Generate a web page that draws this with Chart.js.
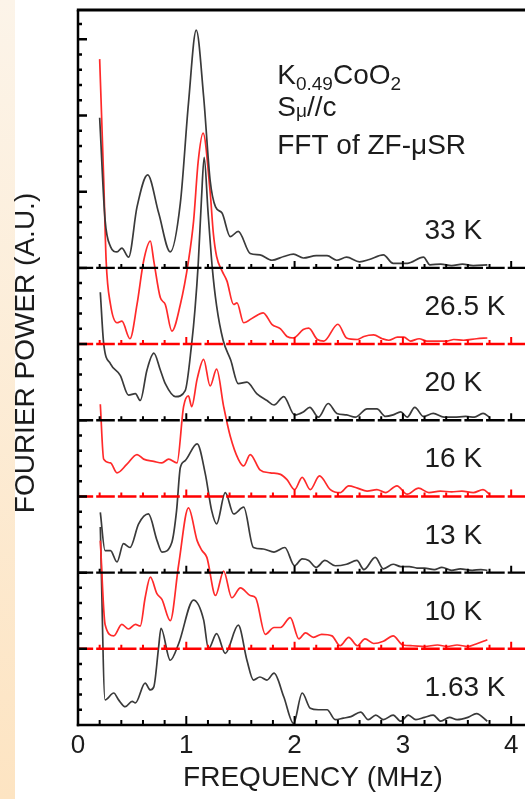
<!DOCTYPE html>
<html><head><meta charset="utf-8">
<script src="https://cdn.jsdelivr.net/npm/chart.js@4.4.1/dist/chart.umd.min.js"></script>
<style>
html,body{margin:0;padding:0;background:#fff;width:525px;height:799px;overflow:hidden;}
#strip{position:absolute;left:0;top:0;width:15px;height:799px;background:linear-gradient(#fcf4e9,#fde4c2);}
#c{position:absolute;left:0;top:0;}
</style></head><body>
<div id="strip"></div>
<canvas id="c" width="550" height="799"></canvas>
<script>
// ---- data (frequency in MHz, Fourier power in arbitrary units above each baseline) ----
const temps   = ['33 K','26.5 K','20 K','16 K','13 K','10 K','1.63 K'];
const offsets = [6, 5, 4, 3, 2, 1, 0];
const xTickLabels = [0, 1, 2, 3, 4];

const f33  = [0.20,0.25,0.30,0.36,0.405,0.467,0.545,0.643,0.745,0.852,0.945,1.02,1.092,1.16,1.22,1.27,1.33,1.406,1.48,1.59,1.68,1.79,1.90,1.99,2.08,2.2,2.3,2.39,2.48,2.6,2.69,2.82,2.91,3.04,3.19,3.25,3.35,3.45,3.55,3.65,3.78];
const p33  = [1.97,0.63,0.28,0.21,0.26,0.14,0.80,1.22,0.72,0.21,0.85,2.16,3.12,2.25,1.15,0.80,0.72,0.41,0.48,0.19,0.17,0.10,0.15,0.18,0.13,0.16,0.16,0.10,0.14,0.08,0.11,0.17,0.06,0.06,0.14,0.04,0.05,0.03,0.05,0.03,0.04];

const f265 = [0.20,0.237,0.26,0.30,0.36,0.405,0.48,0.545,0.606,0.668,0.70,0.76,0.806,0.867,0.945,1.02,1.067,1.11,1.155,1.22,1.25,1.28,1.33,1.375,1.437,1.468,1.53,1.62,1.71,1.79,1.87,1.93,1.99,2.08,2.13,2.21,2.27,2.40,2.48,2.58,2.64,2.73,2.81,2.87,2.95,3.01,3.07,3.15,3.22,3.31,3.41,3.47,3.56,3.68,3.78];
const p265 = [3.74,2.18,1.09,0.52,0.28,0.30,0.07,0.52,1.09,1.35,1.09,0.61,0.52,0.17,0.52,1.09,1.61,2.40,2.77,2.00,1.45,1.15,0.96,0.83,0.52,0.54,0.28,0.35,0.41,0.26,0.20,0.10,0.08,0.19,0.21,0.06,0.04,0.26,0.08,0.06,0.10,0.12,0.07,0.05,0.09,0.09,0.04,0.07,0.04,0.04,0.04,0.06,0.05,0.07,0.08];

const f20  = [0.206,0.237,0.30,0.39,0.467,0.53,0.575,0.637,0.70,0.76,0.806,0.90,0.99,1.05,1.08,1.11,1.14,1.165,1.20,1.24,1.28,1.34,1.41,1.48,1.56,1.65,1.745,1.81,1.90,2.0,2.08,2.14,2.22,2.31,2.39,2.48,2.56,2.67,2.76,2.84,2.91,2.98,3.04,3.11,3.19,3.28,3.38,3.47,3.58,3.66,3.74,3.80];
const p20  = [1.68,1.01,0.74,0.59,0.33,0.35,0.26,0.66,0.88,0.66,0.48,0.31,0.39,1.01,1.45,2.05,2.90,3.45,2.75,2.00,1.50,1.05,0.79,0.48,0.50,0.35,0.26,0.20,0.31,0.07,0.11,0.17,0.04,0.22,0.09,0.07,0.04,0.15,0.15,0.05,0.07,0.11,0.04,0.17,0.05,0.09,0.04,0.04,0.05,0.04,0.09,0.04];

const f16  = [0.206,0.237,0.30,0.36,0.45,0.545,0.606,0.70,0.775,0.837,0.914,0.975,1.02,1.05,1.10,1.16,1.22,1.28,1.345,1.406,1.48,1.53,1.59,1.68,1.775,1.87,1.93,2.0,2.07,2.145,2.23,2.33,2.42,2.50,2.58,2.67,2.76,2.84,2.945,3.04,3.145,3.24,3.345,3.45,3.545,3.65,3.74,3.80];
const p16  = [1.21,0.49,0.44,0.31,0.42,0.55,0.49,0.46,0.44,0.49,0.44,1.18,1.32,1.18,1.54,1.80,1.45,1.67,1.18,0.79,0.49,0.40,0.55,0.35,0.31,0.29,0.22,0.09,0.25,0.09,0.27,0.09,0.05,0.14,0.11,0.07,0.09,0.05,0.14,0.03,0.11,0.05,0.07,0.06,0.07,0.05,0.09,0.03];

const f13  = [0.206,0.25,0.30,0.36,0.42,0.48,0.56,0.65,0.73,0.775,0.867,0.91,0.945,0.99,1.10,1.175,1.235,1.28,1.36,1.437,1.53,1.62,1.71,1.81,1.91,2.0,2.07,2.13,2.2,2.28,2.375,2.48,2.575,2.64,2.745,2.82,2.91,2.98,3.06,3.13,3.2,3.29,3.36,3.45,3.53,3.64,3.72,3.78];
const p13  = [0.79,0.29,0.29,0.14,0.38,0.33,0.64,0.77,0.42,0.27,0.40,0.81,1.38,1.47,1.69,1.30,0.81,0.64,1.05,0.77,0.86,0.33,0.31,0.27,0.33,0.09,0.18,0.16,0.07,0.16,0.09,0.11,0.16,0.04,0.20,0.05,0.11,0.08,0.08,0.06,0.06,0.04,0.07,0.03,0.05,0.03,0.04,0.03];

const f10  = [0.206,0.25,0.33,0.405,0.467,0.53,0.575,0.62,0.668,0.73,0.775,0.852,0.93,1.02,1.10,1.145,1.19,1.27,1.345,1.42,1.50,1.59,1.64,1.73,1.81,1.87,1.96,2.04,2.10,2.175,2.25,2.345,2.42,2.50,2.58,2.65,2.73,2.82,2.91,3.0,3.09,3.2,3.32,3.41,3.5,3.6,3.67,3.78];
const p10  = [1.42,0.32,0.17,0.32,0.26,0.32,0.30,0.67,0.94,0.72,0.65,0.37,1.11,1.85,1.42,1.29,1.20,0.70,1.02,0.67,0.80,0.70,0.67,0.19,0.28,0.28,0.41,0.13,0.21,0.15,0.19,0.17,0.04,0.15,0.04,0.13,0.07,0.10,0.17,0.05,0.04,0.03,0.05,0.03,0.05,0.03,0.06,0.12];

const f163 = [0.206,0.25,0.33,0.375,0.437,0.50,0.53,0.62,0.668,0.70,0.745,0.766,0.852,0.93,1.067,1.16,1.205,1.28,1.36,1.48,1.56,1.62,1.68,1.745,1.81,1.90,1.99,2.07,2.145,2.22,2.30,2.375,2.45,2.52,2.61,2.68,2.75,2.82,2.91,2.98,3.05,3.12,3.2,3.28,3.35,3.43,3.5,3.6,3.68,3.78];
const p163 = [2.6,0.33,0.42,0.33,0.24,0.31,0.29,0.55,0.46,0.50,1.03,1.27,0.85,1.07,1.64,1.38,1.0,1.20,0.94,1.31,0.85,0.59,0.63,0.59,0.68,0.37,0.02,0.42,0.22,0.20,0.20,0.07,0.09,0.11,0.17,0.07,0.13,0.07,0.13,0.05,0.13,0.07,0.10,0.13,0.05,0.10,0.07,0.10,0.15,0.05];

const freqs  = [f33, f265, f20, f16, f13, f10, f163];
const powers = [p33, p265, p20, p16, p13, p10, p163];

// ---- styling ----
const X_MAX = 4.34, Y_MAX = 9.385;
const FONT = "'Liberation Sans', Arial, Helvetica, sans-serif";
const BLACK = '#3a3a3a', RED = '#ff2a2a';
const lineColors = [BLACK, RED, BLACK, RED, BLACK, RED, BLACK];
const baseColors = ['#000000', '#ff0000', '#000000', '#ff0000', '#000000', '#ff0000', '#000000'];
const TXT = '#1c1c1c';

const datasets = temps.map((t, i) => ({
  label: t,
  data: freqs[i].map((f, j) => ({x: f, y: powers[i][j] + offsets[i]})),
  borderColor: lineColors[i],
  borderWidth: 1.7,
  pointRadius: 0,
  fill: false,
  cubicInterpolationMode: 'monotone'
}));

const isInt = v => Math.abs(v - Math.round(v)) < 1e-6;

const deco = {
  id: 'deco',
  afterDatasetsDraw(chart) {
    const {ctx, chartArea: a, scales: {x: xs, y: ys}} = chart;
    ctx.save();
    // dashed baselines with tick marks
    offsets.forEach((off, i) => {
      if (off === 0) return;
      const y = ys.getPixelForValue(off);
      ctx.strokeStyle = baseColors[i];
      ctx.lineWidth = 2.4;
      ctx.beginPath();
      for (let k = 0; 0.2 * k < X_MAX; k++) {
        const s = k === 0 ? a.left : xs.getPixelForValue(0.2 * k - 0.032);
        const e = Math.min(chart.width, xs.getPixelForValue(0.2 * (k + 1) - 0.06));
        ctx.moveTo(s, y); ctx.lineTo(e, y);
      }
      ctx.stroke();
      ctx.lineWidth = 2;
      ctx.beginPath();
      for (let m = 1; 0.2 * m <= X_MAX; m++) {
        const v = 0.2 * m, px = xs.getPixelForValue(v);
        const len = isInt(v) ? 7 : 4;
        ctx.moveTo(px, y); ctx.lineTo(px, y - len);
      }
      ctx.stroke();
    });
    // frame
    ctx.strokeStyle = '#000';
    ctx.lineWidth = 3;
    ctx.beginPath(); ctx.moveTo(a.left - 1.2, a.top); ctx.lineTo(chart.width, a.top); ctx.stroke();
    ctx.lineWidth = 2.5;
    ctx.beginPath(); ctx.moveTo(a.left, a.top); ctx.lineTo(a.left, a.bottom + 1.2); ctx.stroke();
    ctx.beginPath(); ctx.moveTo(a.left - 1.2, a.bottom); ctx.lineTo(chart.width, a.bottom); ctx.stroke();
    // y ticks (inward)
    ctx.lineWidth = 2.5;
    ctx.beginPath();
    for (let k = 1; 0.2 * k < Y_MAX; k++) {
      const v = 0.2 * k, py = ys.getPixelForValue(v);
      const len = isInt(v) ? 9 : 4;
      ctx.moveTo(a.left, py); ctx.lineTo(a.left + len, py);
    }
    ctx.stroke();
    // x ticks (inward)
    ctx.lineWidth = 2;
    ctx.beginPath();
    for (let m = 1; 0.2 * m <= X_MAX; m++) {
      const v = 0.2 * m, px = xs.getPixelForValue(v);
      const len = isInt(v) ? 9 : 5;
      ctx.moveTo(px, a.bottom); ctx.lineTo(px, a.bottom - len);
    }
    ctx.stroke();

    // temperature labels
    ctx.fillStyle = TXT;
    ctx.font = '28px ' + FONT;
    ctx.textAlign = 'left';
    ctx.textBaseline = 'alphabetic';
    temps.forEach((t, i) => {
      ctx.fillText(t, xs.getPixelForValue(3.2), ys.getPixelForValue(offsets[i]) - 29);
    });

    // sample info block
    const x0 = xs.getPixelForValue(1.84);
    let y1 = ys.getPixelForValue(8.42);
    let cx = x0;
    const seg = (txt, size, dy) => {
      ctx.font = size + 'px ' + FONT;
      ctx.fillText(txt, cx, y1 + dy);
      cx += ctx.measureText(txt).width;
    };
    seg('K', 28, 0); seg('0.49', 19, 6); seg('CoO', 28, 0); seg('2', 19, 6);
    cx = x0; y1 = ys.getPixelForValue(8.0);
    seg('S', 28, 0); seg('\u03bc', 19, 1); seg('//c', 28, 0);
    ctx.font = '28px ' + FONT;
    ctx.fillText('FFT of ZF-\u03bcSR', x0, ys.getPixelForValue(7.5));

    // y-axis title
    ctx.save();
    ctx.translate(26, 353);
    ctx.rotate(-Math.PI / 2);
    ctx.textAlign = 'center';
    ctx.textBaseline = 'middle';
    ctx.font = '28px ' + FONT;
    ctx.fillText('FOURIER POWER (A.U.)', 0, 0);
    ctx.restore();
    ctx.restore();
  }
};

new Chart(document.getElementById('c'), {
  type: 'line',
  data: { datasets },
  options: {
    responsive: false,
    animation: false,
    devicePixelRatio: 1,
    layout: { padding: { top: 10, right: 2, left: 0, bottom: 0 } },
    plugins: { legend: { display: false }, tooltip: { enabled: false } },
    scales: {
      x: {
        type: 'linear', min: 0, max: X_MAX,
        afterFit: s => { s.height = 74; },
        afterBuildTicks: s => { s.ticks = xTickLabels.map(v => ({value: v})); },
        grid: { display: false, drawTicks: false },
        border: { display: false },
        ticks: { padding: 5, color: TXT, font: { size: 26, family: FONT }, maxRotation: 0 },
        title: { display: true, text: 'FREQUENCY (MHz)', color: TXT, font: { size: 28, family: FONT }, padding: { top: 0, bottom: 4 } }
      },
      y: {
        type: 'linear', min: 0, max: Y_MAX,
        afterFit: s => { s.width = 78; },
        grid: { display: false, drawTicks: false },
        border: { display: false },
        ticks: { display: false }
      }
    }
  },
  plugins: [deco]
});
</script></body></html>
